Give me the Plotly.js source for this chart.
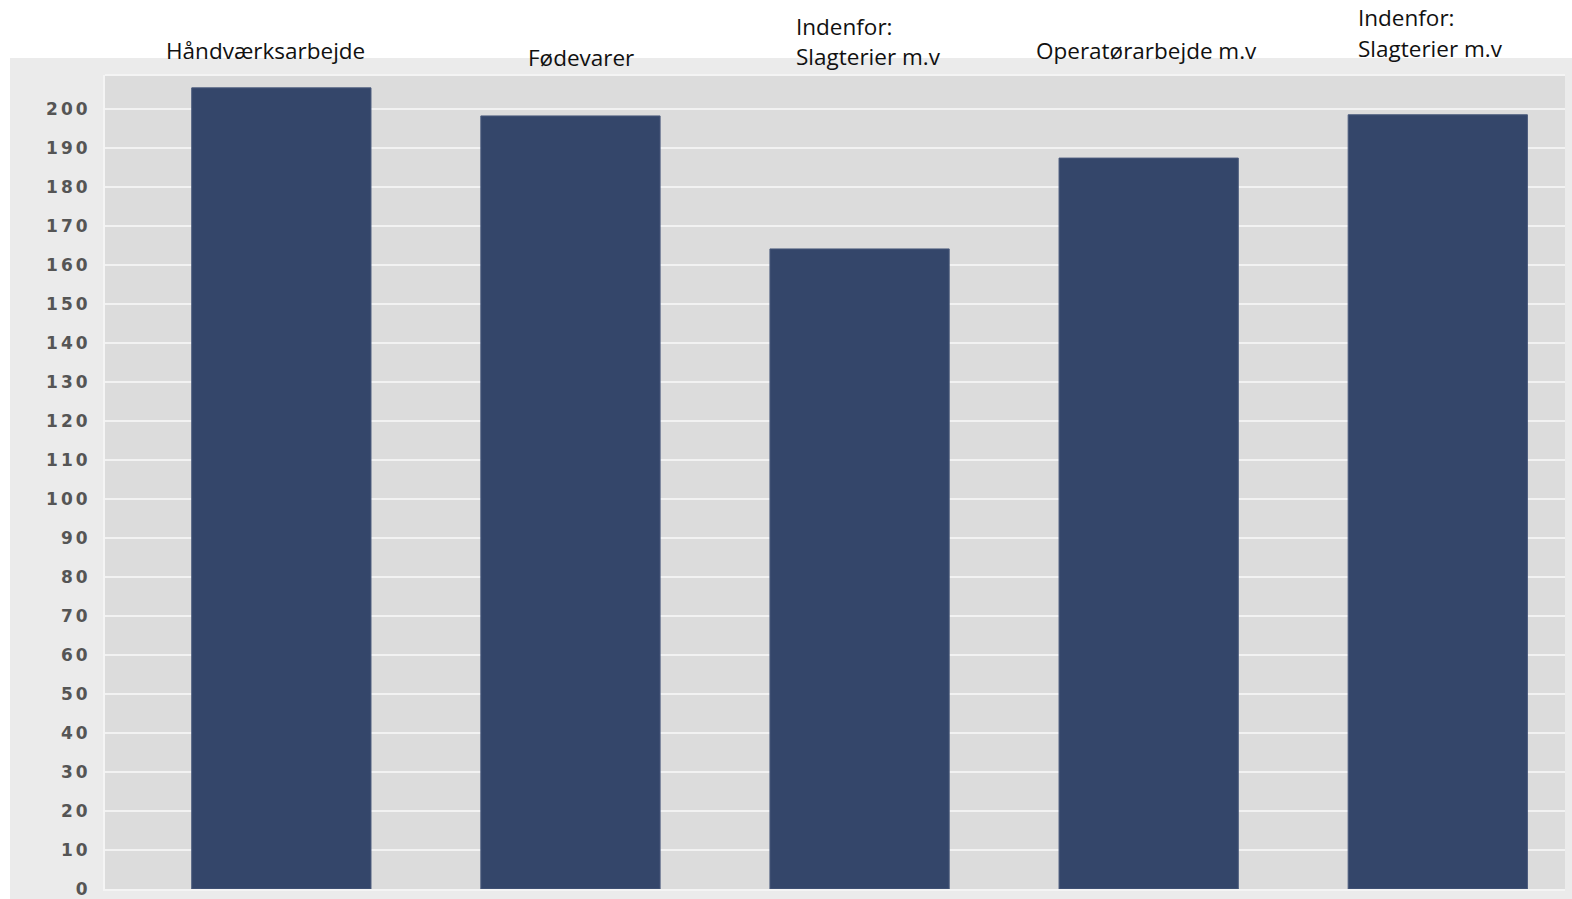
<!DOCTYPE html>
<html>
<head>
<meta charset="utf-8">
<script src="https://cdn.plot.ly/plotly-3.0.1.min.js"></script>
<style>
html,body{margin:0;padding:0;background:#fff;}
#chart{width:1572px;height:899px;}
.ytick text{letter-spacing:3px;}
</style>
</head>
<body>
<div id="chart"></div>
<script>
// Data
const categories = ["Håndværksarbejde", "Fødevarer", "Indenfor: Slagterier m.v", "Operatørarbejde m.v", "Indenfor: Slagterier m.v (2)"];
const values = [205.4, 198.2, 164.1, 187.4, 198.5];
const labelLines = [
  ["Håndværksarbejde"],
  ["Fødevarer"],
  ["Indenfor:", "Slagterier m.v"],
  ["Operatørarbejde m.v"],
  ["Indenfor:", "Slagterier m.v"]
];
const tickVals = [0,10,20,30,40,50,60,70,80,90,100,110,120,130,140,150,160,170,180,190,200];

// Layout geometry (pixels)
const W = 1572, H = 899;
const L = 105, R = 7, T = 75, B = 10;
const PW = W - L - R, PH = H - T - B;
const px = x => (x - L) / PW;
const py = y => (H - B - y) / PH;

// label placement: [x px, anchor, first line center y px]
const labelPos = [
  [265.5, 'center', 51],
  [580.5, 'center', 58],
  [794, 'left', 26],
  [1146, 'center', 50],
  [1356, 'left', 18]
];
const lineGap = 31;

const annotations = [];
labelLines.forEach((lines, i) => {
  lines.forEach((t, j) => {
    annotations.push({
      text: t, xref: 'paper', yref: 'paper',
      x: px(labelPos[i][0]), y: py(labelPos[i][2] + j * lineGap),
      xanchor: labelPos[i][1], yanchor: 'middle',
      showarrow: false,
      font: {family: 'Open Sans, sans-serif', size: 22.5, color: '#111'}
    });
  });
});

const trace = {
  type: 'bar',
  x: [0,1,2,3,4],
  y: values,
  text: categories,
  hoverinfo: 'text+y',
  textposition: 'none',
  marker: {color: '#34466a', line: {color: '#4a5a7c', width: 1}}
};

const layout = {
  width: W, height: H,
  margin: {l: L, r: R, t: T, b: B, pad: 0},
  paper_bgcolor: '#ffffff',
  plot_bgcolor: '#dcdcdc',
  showlegend: false,
  bargap: 0.38,
  xaxis: {
    range: [-0.61, 4.44],
    showgrid: false, zeroline: false, showticklabels: false, ticks: '',
    showline: true, linecolor: '#f4f4f4', linewidth: 2
  },
  yaxis: {
    range: [0, 208.7],
    tickvals: tickVals,
    ticktext: tickVals.map(String),
    showgrid: true, gridcolor: '#f2f2f2', gridwidth: 2,
    zeroline: false, ticks: '',
    showline: true, linecolor: '#f4f4f4', linewidth: 2,
    ticklabelstandoff: 9,
    tickfont: {family: 'DejaVu Sans, sans-serif', size: 17, color: '#555555', weight: 'bold'}
  },
  shapes: [
    {type: 'rect', xref: 'paper', yref: 'paper', layer: 'below',
     x0: px(10), x1: px(1572), y0: py(899), y1: py(58),
     fillcolor: '#ebebeb', line: {width: 0}},
    {type: 'rect', xref: 'paper', yref: 'paper', layer: 'below',
     x0: 0, x1: 1, y0: 0, y1: 1,
     fillcolor: '#dcdcdc', line: {width: 0}},
    {type: 'line', xref: 'paper', yref: 'paper', layer: 'below',
     x0: 0, x1: 1, y0: 1, y1: 1, line: {color: '#f4f4f4', width: 2}}
  ],
  annotations: annotations
};

Plotly.newPlot('chart', [trace], layout, {displayModeBar: false, staticPlot: true});
</script>
</body>
</html>
